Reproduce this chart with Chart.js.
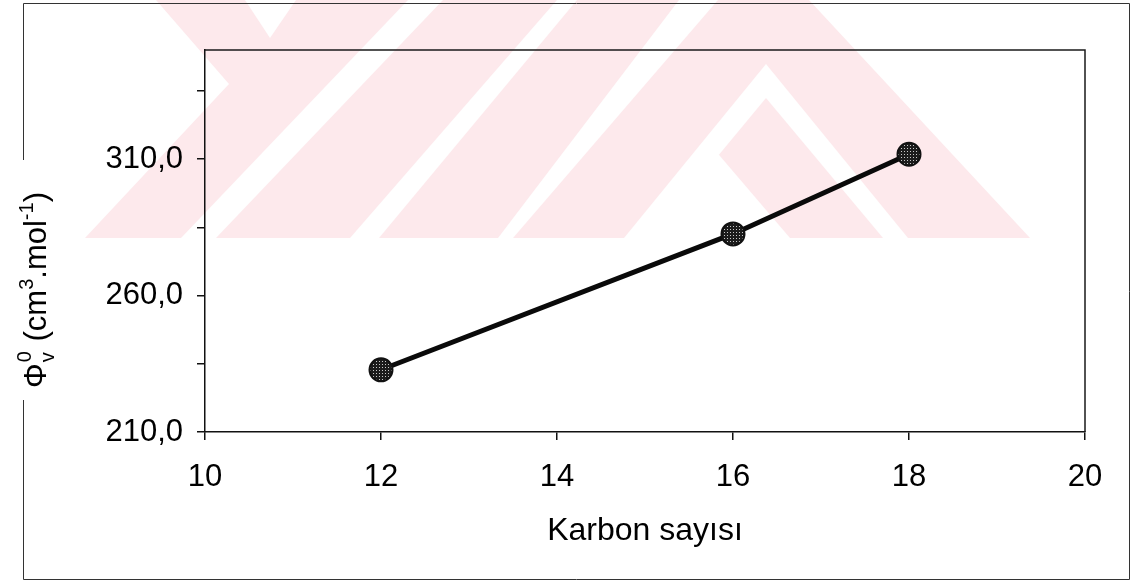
<!DOCTYPE html>
<html>
<head>
<meta charset="utf-8">
<script src="https://cdn.jsdelivr.net/npm/chart.js@4.4.1/dist/chart.umd.min.js"></script>
<style>
html, body { margin: 0; padding: 0; background: #fff; }
</style>
</head>
<body>
<canvas id="myChart" width="1137" height="582"></canvas>
<script>
// values
var carbonNumbers = [12, 16, 18];
var phiValues = [232.8, 282.6, 311.8];
var xTicks = [10, 12, 14, 16, 18, 20];
var yTicks = [210, 235, 260, 285, 310, 335];
var yLabelled = [210, 260, 310];

var FONT = "'Liberation Sans', Arial, sans-serif";

// dotted dark fill for the markers
var tile = document.createElement('canvas');
tile.width = 3; tile.height = 3;
var tg = tile.getContext('2d');
tg.fillStyle = '#1c1c1c';
tg.fillRect(0, 0, 3, 3);
tg.fillStyle = '#c8c8c8';
tg.fillRect(1, 1, 1, 1);
var dots = tg.createPattern(tile, 'repeat');

// faint watermark in the scan (decoration only)
var pinkShape = [[156,0],[809,0],[1030,238],[85,238],[229,84]];
var whiteCuts = [
    [[245,0],[296,0],[270,38]],
    [[408,0],[443,0],[216,238],[181,238]],
    [[557,0],[577,0],[379,238],[350,238]],
    [[679,0],[718,0],[513,238],[498,238]],
    [[766,64],[908,238],[624,238]]
];
var pinkInner = [[766,98],[883,238],[650,238]];
var whiteInner = [[708,142],[790,238],[626,238]];

function poly(ctx, pts) {
    ctx.beginPath();
    ctx.moveTo(pts[0][0], pts[0][1]);
    for (var i = 1; i < pts.length; i++) ctx.lineTo(pts[i][0], pts[i][1]);
    ctx.closePath();
    ctx.fill();
}

function drawYTitle(ctx) {
    var main = '31px ' + FONT, small = '20px ' + FONT;
    var parts = [
        { t: 'Φ', f: main, dy: 0 },
        { t: 'v', f: small, dy: 8, stack: '0' },
        { t: ' (cm', f: main, dy: 0 },
        { t: '3', f: small, dy: -13 },
        { t: '.mol', f: main, dy: 0 },
        { t: '-1', f: small, dy: -13 },
        { t: ')', f: main, dy: 0 }
    ];
    ctx.save();
    var total = 0;
    parts.forEach(function (p) {
        ctx.font = p.f;
        var w = ctx.measureText(p.t).width;
        if (p.stack) w = Math.max(w, ctx.measureText(p.stack).width);
        p.w = w;
        total += w + (p.stack ? 2 : 0);
    });
    ctx.translate(46, 290);
    ctx.rotate(-Math.PI / 2);
    ctx.fillStyle = '#000';
    ctx.textBaseline = 'alphabetic';
    var x = -total / 2;
    parts.forEach(function (p) {
        ctx.font = p.f;
        ctx.fillText(p.t, x + (p.stack ? 1 : 0), p.dy);
        if (p.stack) ctx.fillText(p.stack, x + 1, -15);
        x += p.w + (p.stack ? 2 : 0);
    });
    ctx.restore();
}

var backdrop = {
    id: 'backdrop',
    beforeDraw: function (chart) {
        var ctx = chart.ctx;
        ctx.save();
        ctx.fillStyle = '#fff';
        ctx.fillRect(0, 0, chart.width, chart.height);
        ctx.beginPath();
        ctx.rect(0, 0, chart.width, 238);
        ctx.clip();
        ctx.fillStyle = '#fde9ec';
        poly(ctx, pinkShape);
        ctx.fillStyle = '#fff';
        whiteCuts.forEach(function (c) { poly(ctx, c); });
        ctx.fillStyle = '#fde9ec';
        poly(ctx, pinkInner);
        ctx.fillStyle = '#fff';
        poly(ctx, whiteInner);
        ctx.restore();
    },
    beforeDatasetsDraw: function (chart) {
        var ctx = chart.ctx, a = chart.chartArea;
        ctx.save();
        ctx.strokeStyle = '#1a1a1a';
        ctx.lineWidth = 1.5;
        ctx.beginPath();
        ctx.moveTo(a.left, a.top);
        ctx.lineTo(a.right, a.top);
        ctx.lineTo(a.right, a.bottom);
        ctx.stroke();
        // outer frame with a gap for the y title
        ctx.strokeStyle = '#333';
        ctx.lineWidth = 1;
        ctx.beginPath();
        ctx.moveTo(23.5, 160);
        ctx.lineTo(23.5, 3.5);
        ctx.lineTo(1129.5, 3.5);
        ctx.lineTo(1129.5, 579.5);
        ctx.lineTo(23.5, 579.5);
        ctx.lineTo(23.5, 400);
        ctx.stroke();
        ctx.restore();
        drawYTitle(ctx);
    }
};

var points = carbonNumbers.map(function (c, i) { return { x: c, y: phiValues[i] }; });

var ctx = document.getElementById('myChart');
var lineGraph = new Chart(ctx, {
    type: 'line',
    data: {
        datasets: [{
            data: points,
            borderColor: '#0a0a0a',
            borderWidth: 5,
            tension: 0,
            fill: false,
            pointRadius: 11.5,
            pointHoverRadius: 11.5,
            pointBorderWidth: 2,
            pointBorderColor: '#111',
            pointBackgroundColor: dots
        }]
    },
    options: {
        responsive: false,
        animation: false,
        devicePixelRatio: 1,
        layout: { padding: { top: 50, right: 52, left: 0, bottom: 0 } },
        plugins: {
            legend: { display: false },
            tooltip: { enabled: false }
        },
        scales: {
            x: {
                type: 'linear',
                min: 10,
                max: 20,
                afterFit: function (s) { s.height = 150; },
                afterBuildTicks: function (s) { s.ticks = xTicks.map(function (v) { return { value: v }; }); },
                grid: { drawOnChartArea: false, drawTicks: true, tickLength: 8, color: '#111', lineWidth: 1.5 },
                border: { color: '#111', width: 1.5 },
                ticks: {
                    color: '#000',
                    padding: 19,
                    maxRotation: 0,
                    font: { family: FONT, size: 31 },
                    callback: function (v) { return String(v); }
                },
                title: {
                    display: true,
                    text: 'Karbon sayısı',
                    color: '#000',
                    font: { family: FONT, size: 32 },
                    padding: { top: 0, bottom: 32 }
                }
            },
            y: {
                min: 210,
                max: 350,
                afterFit: function (s) { s.width = 205; },
                afterBuildTicks: function (s) { s.ticks = yTicks.map(function (v) { return { value: v }; }); },
                grid: { drawOnChartArea: false, drawTicks: true, tickLength: 8, color: '#111', lineWidth: 1.5 },
                border: { color: '#111', width: 1.5 },
                ticks: {
                    color: '#000',
                    padding: 14,
                    font: { family: FONT, size: 31 },
                    callback: function (v) {
                        return yLabelled.indexOf(v) >= 0 ? v.toFixed(1).replace('.', ',') : '';
                    }
                }
            }
        }
    },
    plugins: [backdrop]
});
</script>
</body>
</html>
